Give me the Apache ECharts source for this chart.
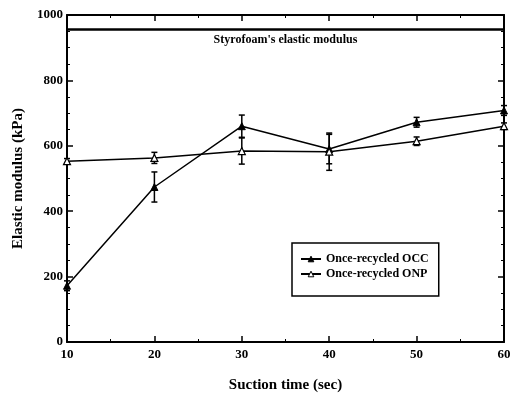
<!DOCTYPE html>
<html style="height: 100%">
<head>
<meta charset="utf-8">
</head>
<body style="height: 100%; margin: 0; background: #fff">
<div id="container" style="width: 514px; height: 401px"></div>
<script type="text/javascript" src="https://cdn.jsdelivr.net/npm/echarts@6/dist/echarts.min.js"></script>
<script type="text/javascript">
// suction time (sec)
var suctionTime = [10, 20, 30, 40, 50, 60];
// once-recycled OCC: mean and error (kPa)
var occMean = [172, 474, 660, 590, 672, 708];
var occErr = [15, 46, 34, 45, 15, 15];
// once-recycled ONP: mean and error (kPa)
var onpMean = [553, 563, 584, 582, 614, 660];
var onpErr = [8, 17, 40, 57, 13, 10];
var styrofoamModulus = 955;

var font = 'Liberation Serif';

var dom = document.getElementById('container');
var myChart = echarts.init(dom);

function pairs(xs, ys) {
    return xs.map(function (x, i) { return [x, ys[i]]; });
}
function errData(xs, ys, es) {
    return xs.map(function (x, i) { return [x, ys[i] - es[i], ys[i] + es[i]]; });
}

function errorBar(params, api) {
    var x = api.value(0);
    var lo = api.coord([x, api.value(1)]);
    var hi = api.coord([x, api.value(2)]);
    var cap = 3;
    var style = { stroke: '#000', lineWidth: 1.5 };
    return {
        type: 'group',
        children: [
            { type: 'line', shape: { x1: lo[0], y1: lo[1], x2: hi[0], y2: hi[1] }, style: style },
            { type: 'line', shape: { x1: lo[0] - cap, y1: lo[1], x2: lo[0] + cap, y2: lo[1] }, style: style },
            { type: 'line', shape: { x1: hi[0] - cap, y1: hi[1], x2: hi[0] + cap, y2: hi[1] }, style: style }
        ]
    };
}

var axisCommon = {
    axisLine: { show: true, onZero: false, lineStyle: { color: '#000', width: 2 } },
    axisTick: { show: true, inside: true, length: 6, lineStyle: { color: '#000', width: 1.5 } },
    minorTick: { show: true, splitNumber: 2, length: 3, lineStyle: { color: '#000', width: 1 } },
    splitLine: { show: false }
};

var option = {
    backgroundColor: '#fff',
    animation: false,
    grid: { left: 67, right: 10, top: 15, bottom: 59 },
    legend: {
        left: 292,
        top: 243,
        orient: 'vertical',
        padding: [10, 10, 16, 8],
        itemGap: 3,
        itemWidth: 20,
        itemHeight: 7,
        borderColor: '#000',
        borderWidth: 1.5,
        textStyle: { fontFamily: font, fontWeight: 'bold', fontSize: 12, color: '#000' },
        data: [
            { name: 'Once-recycled OCC', itemStyle: { color: '#000', borderColor: '#000', borderWidth: 1 } },
            { name: 'Once-recycled ONP', itemStyle: { color: '#fff', borderColor: '#000', borderWidth: 1 } }
        ]
    },
    xAxis: [
        Object.assign({}, axisCommon, {
            type: 'value',
            min: 10, max: 60, interval: 10,
            name: 'Suction time (sec)',
            nameLocation: 'middle',
            nameGap: 36,
            nameTextStyle: { fontFamily: font, fontWeight: 'bold', fontSize: 15, color: '#000' },
            axisLabel: { fontFamily: font, fontWeight: 'bold', fontSize: 13, color: '#000', margin: 6 }
        }),
        Object.assign({}, axisCommon, {
            type: 'value', position: 'top',
            min: 10, max: 60, interval: 10,
            axisLabel: { show: false }
        })
    ],
    yAxis: [
        Object.assign({}, axisCommon, {
            type: 'value',
            min: 0, max: 1000, interval: 200,
            name: 'Elastic modulus (kPa)',
            nameLocation: 'middle',
            nameGap: 40,
            nameTextStyle: { fontFamily: font, fontWeight: 'bold', fontSize: 15, color: '#000' },
            minorTick: { show: true, splitNumber: 4, length: 3, lineStyle: { color: '#000', width: 1 } },
            axisLabel: {
                fontFamily: font, fontWeight: 'bold', fontSize: 13, color: '#000', margin: 4,
                formatter: function (v) { return String(v); }
            }
        }),
        Object.assign({}, axisCommon, {
            type: 'value', position: 'right',
            min: 0, max: 1000, interval: 200,
            minorTick: { show: true, splitNumber: 4, length: 3, lineStyle: { color: '#000', width: 1 } },
            axisLabel: { show: false }
        })
    ],
    series: [
        {
            name: 'Once-recycled OCC',
            type: 'line',
            data: pairs(suctionTime, occMean),
            symbol: 'triangle',
            symbolSize: 7,
            itemStyle: { color: '#000', borderColor: '#000', borderWidth: 1 },
            lineStyle: { color: '#000', width: 1.5 },
            z: 3,
            markLine: {
                silent: true,
                symbol: 'none',
                lineStyle: { color: '#000', width: 2.5, type: 'solid' },
                label: {
                    show: true,
                    position: 'insideMiddleBottom',
                    formatter: "Styrofoam's elastic modulus",
                    fontFamily: font,
                    fontWeight: 'bold',
                    fontSize: 12,
                    color: '#000',
                    distance: [12, 4]
                },
                data: [{ yAxis: styrofoamModulus }]
            }
        },
        {
            name: 'Once-recycled ONP',
            type: 'line',
            data: pairs(suctionTime, onpMean),
            symbol: 'triangle',
            symbolSize: 7,
            itemStyle: { color: '#fff', borderColor: '#000', borderWidth: 1.2 },
            lineStyle: { color: '#000', width: 1.5 },
            z: 3
        },
        {
            type: 'custom',
            renderItem: errorBar,
            data: errData(suctionTime, occMean, occErr),
            encode: { x: 0, y: [1, 2] },
            z: 2
        },
        {
            type: 'custom',
            renderItem: errorBar,
            data: errData(suctionTime, onpMean, onpErr),
            encode: { x: 0, y: [1, 2] },
            z: 2
        }
    ]
};

if (option && typeof option === 'object') {
    myChart.setOption(option);
}
</script>
</body>
</html>
